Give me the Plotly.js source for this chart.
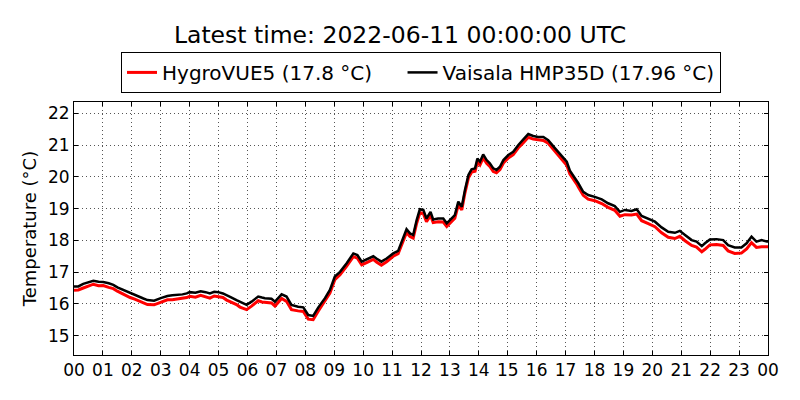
<!DOCTYPE html>
<html>
<head>
<meta charset="utf-8">
<script src="https://cdn.plot.ly/plotly-3.0.1.min.js"></script>
<style>html,body{margin:0;padding:0;background:#fff;}#chart{width:800px;height:400px;}</style>
</head>
<body>
<div id="chart"></div>
<script>
// hours since 2022-06-10 00:00 UTC
const hours = [0.0,0.15,0.32,0.5,0.67,0.85,1.01,1.2,1.36,1.5,1.65,1.8,1.94,2.1,2.23,2.4,2.54,2.77,3.0,3.23,3.4,3.55,3.75,3.9,4.0,4.2,4.38,4.55,4.7,4.85,4.99,5.15,5.28,5.45,5.62,5.74,5.97,6.14,6.37,6.5,6.6,6.83,6.95,7.1,7.18,7.35,7.52,7.75,7.93,8.1,8.27,8.45,8.68,8.85,9.02,9.2,9.43,9.66,9.8,9.95,10.12,10.35,10.46,10.63,10.81,11.04,11.21,11.39,11.5,11.62,11.73,11.85,11.96,12.08,12.19,12.33,12.42,12.59,12.77,12.89,13.06,13.17,13.29,13.41,13.52,13.64,13.75,13.87,13.95,14.04,14.15,14.27,14.38,14.5,14.61,14.73,14.85,15.02,15.19,15.36,15.54,15.71,15.88,16.05,16.23,16.4,16.57,16.8,17.04,17.15,17.27,17.38,17.44,17.61,17.78,18.01,18.25,18.47,18.7,18.88,19.05,19.28,19.46,19.63,19.86,20.09,20.32,20.55,20.78,20.95,21.13,21.36,21.53,21.71,21.82,21.99,22.22,22.45,22.62,22.85,23.08,23.26,23.43,23.6,23.78,23.95,24.0];

const vaisala = [16.55,16.55,16.63,16.68,16.73,16.7,16.69,16.65,16.6,16.52,16.46,16.4,16.33,16.28,16.23,16.17,16.12,16.1,16.18,16.25,16.27,16.28,16.3,16.33,16.37,16.35,16.4,16.37,16.33,16.38,16.37,16.33,16.28,16.2,16.12,16.07,15.97,16.07,16.23,16.2,16.18,16.16,16.07,16.22,16.3,16.23,15.97,15.91,15.89,15.65,15.62,15.89,16.18,16.44,16.86,17.01,17.28,17.59,17.54,17.33,17.4,17.5,17.43,17.33,17.43,17.59,17.67,18.1,18.35,18.22,18.17,18.64,18.98,18.96,18.69,18.9,18.66,18.69,18.69,18.54,18.69,18.8,19.22,19.06,19.59,20.06,20.24,20.27,20.58,20.48,20.71,20.53,20.43,20.27,20.22,20.32,20.53,20.69,20.79,21.0,21.18,21.35,21.29,21.26,21.26,21.16,20.97,20.74,20.48,20.2,20.05,19.9,19.8,19.53,19.43,19.37,19.29,19.17,19.08,18.9,18.96,18.93,18.98,18.77,18.69,18.59,18.41,18.27,18.24,18.3,18.17,18.01,17.96,17.82,17.91,18.03,18.04,18.01,17.85,17.78,17.78,17.91,18.12,17.96,18.01,17.96,17.96];

const hygrovue = [16.43,16.44,16.5,16.56,16.62,16.57,16.58,16.52,16.48,16.4,16.33,16.27,16.2,16.15,16.1,16.03,15.98,15.97,16.06,16.13,16.13,16.15,16.16,16.2,16.24,16.21,16.27,16.22,16.18,16.25,16.22,16.2,16.12,16.05,15.98,15.9,15.82,15.93,16.1,16.06,16.05,16.03,15.93,16.09,16.17,16.08,15.82,15.78,15.76,15.52,15.5,15.78,16.08,16.34,16.76,16.92,17.19,17.49,17.44,17.23,17.3,17.4,17.32,17.22,17.33,17.5,17.58,17.99,18.25,18.12,18.07,18.54,18.87,18.85,18.59,18.79,18.56,18.59,18.58,18.44,18.6,18.7,19.12,18.96,19.5,19.97,20.15,20.18,20.48,20.38,20.6,20.43,20.33,20.17,20.13,20.23,20.44,20.6,20.7,20.91,21.08,21.25,21.19,21.16,21.15,21.06,20.87,20.63,20.37,20.09,19.94,19.78,19.68,19.42,19.3,19.25,19.16,19.04,18.95,18.76,18.81,18.8,18.83,18.62,18.53,18.43,18.24,18.1,18.06,18.13,17.99,17.84,17.79,17.64,17.72,17.86,17.87,17.84,17.67,17.59,17.6,17.73,17.93,17.78,17.8,17.8,17.8];

const tickHours = [0,1,2,3,4,5,6,7,8,9,10,11,12,13,14,15,16,17,18,19,20,21,22,23,24];
const tickLabels = ["00","01","02","03","04","05","06","07","08","09","10","11","12","13","14","15","16","17","18","19","20","21","22","23","00"];
const yTicks = [15,16,17,18,19,20,21,22];
const seriesNames = ["HygroVUE5 (17.8 °C)", "Vaisala HMP35D (17.96 °C)"];

const pad = '\u00A0\u00A0\u00A0\u00A0';
const traces = [
  {x: hours, y: hygrovue, type: 'scatter', mode: 'lines', name: seriesNames[0] + pad,
   line: {color: '#ff0000', width: 3}},
  {x: hours, y: vaisala, type: 'scatter', mode: 'lines', name: seriesNames[1],
   line: {color: '#000000', width: 2.5}}
];

const axisCommon = {
  showline: true, linecolor: '#000', linewidth: 1, mirror: 'ticks',
  ticks: 'inside', ticklen: 4, tickwidth: 1, tickcolor: '#000',
  showgrid: true, gridcolor: '#555', gridwidth: 1, griddash: '1px,3px',
  zeroline: false, tickfont: {size: 17, color: '#000'}
};

const layout = {
  width: 800, height: 400,
  paper_bgcolor: '#fff', plot_bgcolor: '#fff',
  font: {family: 'DejaVu Sans', color: '#000'},
  margin: {l: 74, r: 32, t: 102, b: 45},
  title: {text: 'Latest time: 2022-06-11 00:00:00 UTC', font: {size: 23.5, color: '#000'},
          x: 0.5, xanchor: 'center', y: 1 - 35/400, yanchor: 'middle', yref: 'container'},
  showlegend: true,
  legend: {orientation: 'h', x: 0.5, xanchor: 'center', y: 1.198, yanchor: 'top',
           bordercolor: '#000', borderwidth: 1, bgcolor: '#fff',
           font: {size: 20, color: '#000'}},
  xaxis: Object.assign({}, axisCommon, {range: [0, 24], tickmode: 'array',
           tickvals: tickHours, ticktext: tickLabels}),
  yaxis: Object.assign({}, axisCommon, {range: [14.39, 22.36], tickmode: 'array',
           tickvals: yTicks, title: {text: 'Temperature (°C)', font: {size: 18, color: '#000'}, standoff: 6}})
};

Plotly.newPlot('chart', traces, layout, {displayModeBar: false, staticPlot: true});
</script>
</body>
</html>
